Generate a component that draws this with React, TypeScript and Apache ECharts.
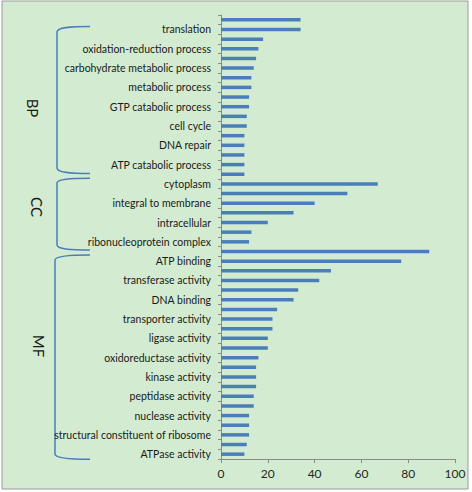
import React, { useEffect, useRef } from "react";
import * as echarts from "echarts";

// Categories listed top to bottom; "" marks bars whose label is not printed
const categoryLabels: string[] = [
  "", "translation", "", "oxidation-reduction process", "", "carbohydrate metabolic process",
  "", "metabolic process", "", "GTP catabolic process", "", "cell cycle",
  "", "DNA repair", "", "ATP catabolic process", "",
  "cytoplasm", "", "integral to membrane", "", "intracellular", "", "ribonucleoprotein complex",
  "", "ATP binding", "", "transferase activity", "", "DNA binding", "", "transporter activity",
  "", "ligase activity", "", "oxidoreductase activity", "", "kinase activity", "", "peptidase activity",
  "", "nuclease activity", "", "structural constituent of ribosome", "", "ATPase activity",
];

const counts: number[] = [
  34, 34, 18, 16, 15, 14, 13, 13, 12, 12, 11, 11, 10, 10, 10, 10, 10,
  67, 54, 40, 31, 20, 13, 12,
  89, 77, 47, 42, 33, 31, 24, 22, 22, 20, 20, 16, 15, 15, 15, 14, 14, 12, 12, 12, 11, 10,
];

const xTicks = { min: 0, max: 100, interval: 20 };
const groupNames: string[] = ["BP", "CC", "MF"];

const categories = categoryLabels.map((l, i) => (l === "" ? `term ${i + 1}` : l));

const FONT = "Lato, 'Open Sans', sans-serif";

export default function App() {
  const ref = useRef<HTMLDivElement>(null);
  useEffect(() => {
    if (!ref.current) return;
    document.body.style.margin = "0";
    const d =
      "M90,26.5 C70,26.5 57,27.5 57,32 L57,168 C57,172.5 70,173.5 90,173.5 " +
      "M90,178.3 C70,178.3 57,179 57,183 L57,245 C57,249 70,250 90,250 " +
      "M90,255 C70,255 55,256 55,260 L55,454 C55,458 70,459.3 90,459.3";
    echarts.graphic.registerShape("brackets", echarts.graphic.extendPath(d, {}) as any);
    const chart = echarts.init(ref.current, undefined, { renderer: "svg" });
    chart.setOption({
      animation: false,
      backgroundColor: "#ffffff",
      grid: { left: 221, right: 17, top: 15, bottom: 33, containLabel: false },
      xAxis: {
        type: "value",
        min: xTicks.min,
        max: xTicks.max,
        interval: xTicks.interval,
        splitLine: { show: false },
        axisLine: { show: true, lineStyle: { color: "#8a8a8a", width: 1 } },
        axisTick: { show: true, length: 4, lineStyle: { color: "#8a8a8a" } },
        axisLabel: { color: "#262626", fontSize: 12, fontFamily: FONT, margin: 8 },
      },
      yAxis: {
        type: "category",
        inverse: true,
        data: categories,
        axisLine: { show: true, lineStyle: { color: "#8a8a8a", width: 1 } },
        axisTick: { show: true, interval: 0, length: 3, lineStyle: { color: "#8a8a8a" } },
        axisLabel: {
          interval: (index: number) => categoryLabels[index] !== "",
          color: "#1a1a1a",
          fontSize: 10.5,
          fontFamily: FONT,
          margin: 10,
        },
      },
      series: [
        {
          type: "bar",
          data: counts,
          barWidth: 3.5,
          itemStyle: { color: "#4a7ebb" },
        },
      ],
      graphic: [
        {
          type: "rect",
          z: -10,
          shape: { x: 2, y: 1, width: 466, height: 488 },
          style: { fill: "#d3ecd1", stroke: "#9a9a9a", lineWidth: 1 },
        },
        {
          type: "brackets",
          x: 0,
          y: 0,
          style: { fill: "none", stroke: "#4a7ebb", lineWidth: 1.5 },
        },
        ...groupNames.map((name, i) => ({
          type: "text",
          x: [33, 37, 39][i],
          y: [108, 207, 346][i],
          rotation: -Math.PI / 2,
          style: {
            text: name,
            fontSize: 15,
            fontFamily: FONT,
            fill: "#1a1a1a",
            align: "center",
            verticalAlign: "middle",
          },
        })),
      ],
    });
    return () => chart.dispose();
  }, []);
  return (
    <div
      ref={ref}
      style={{ position: "absolute", left: 0, top: 0, width: 472, height: 492 }}
    />
  );
}
